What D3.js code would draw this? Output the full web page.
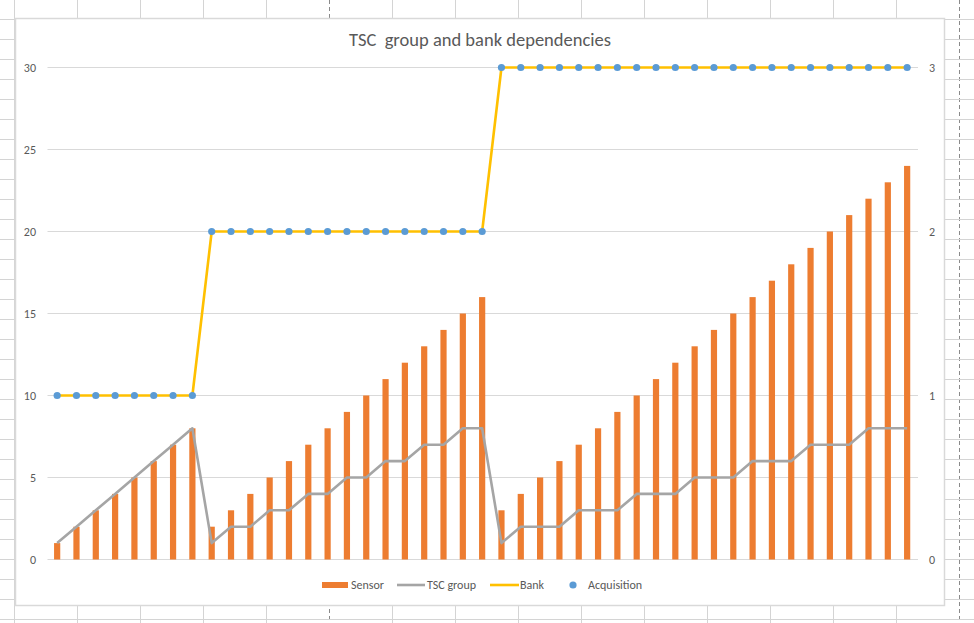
<!DOCTYPE html>
<html><head><meta charset="utf-8">
<script src="https://cdn.jsdelivr.net/npm/d3@7"></script>
<style>body{margin:0;background:#fff;}svg{display:block;}</style>
</head><body>
<svg id="c" width="974" height="623"></svg>
<script>
const sensor = [1,2,3,4,5,6,7,8,
  2,3,4,5,6,7,8,9,10,11,12,13,14,15,16,
  3,4,5,6,7,8,9,10,11,12,13,14,15,16,17,18,19,20,21,22,23,24];
const tscGroup = [1,2,3,4,5,6,7,8,
  1,2,2,3,3,4,4,5,5,6,6,7,7,8,8,
  1,2,2,2,3,3,3,4,4,4,5,5,5,6,6,6,7,7,7,8,8,8];
const bank = [1,1,1,1,1,1,1,1,
  2,2,2,2,2,2,2,2,2,2,2,2,2,2,2,
  3,3,3,3,3,3,3,3,3,3,3,3,3,3,3,3,3,3,3,3,3,3];
const acquisition = bank.slice();
const leftTicks = [0,5,10,15,20,25,30];
const rightTicks = [0,1,2,3];
const seriesNames = ["Sensor","TSC group","Bank","Acquisition"];
const title = "TSC  group and bank dependencies";

const svg = d3.select("#c");
const W = 974, H = 623;
const font = "Calibri, Carlito, Lato, 'Open Sans', sans-serif";

// spreadsheet background grid
const bg = svg.append("g");
const colXs = d3.range(-49, 1000, 63).map(v => v + 0.5);
const rowYs = d3.range(-1, 640, 20).map(v => v + 0.5);
colXs.forEach(x => {
  const dashed = Math.round(x) === 330 || Math.round(x) === 960;
  bg.append("line").attr("x1", x).attr("x2", x).attr("y1", 0).attr("y2", H)
    .attr("stroke", dashed ? "#8a8a8a" : "#d4d4d4").attr("stroke-width", 1)
    .attr("stroke-dasharray", dashed ? "4,3" : null);
});
rowYs.forEach(y => {
  bg.append("line").attr("x1", 0).attr("x2", W).attr("y1", y).attr("y2", y)
    .attr("stroke", "#d4d4d4").attr("stroke-width", 1);
});

// chart area
svg.append("rect").attr("x", 15.5).attr("y", 18.5).attr("width", 929).attr("height", 587)
  .attr("fill", "#fff").attr("stroke", "#d9d9d9").attr("stroke-width", 1.5);

const cats = d3.range(sensor.length);
const x = d3.scaleBand().domain(cats).range([47.5, 916.8]);
const yL = d3.scaleLinear().domain([0, 30]).range([559.5, 67.5]);
const yR = d3.scaleLinear().domain([0, 3]).range([559.5, 67.5]);
const cx = i => x(i) + x.bandwidth() / 2;

// gridlines
svg.append("g").selectAll("line").data(leftTicks).join("line")
  .attr("x1", 47.5).attr("x2", 918).attr("y1", d => yL(d)).attr("y2", d => yL(d))
  .attr("stroke", "#d9d9d9").attr("stroke-width", 1);

// axes labels
const axL = d3.axisLeft(yL).tickValues(leftTicks).tickSize(0).tickPadding(0);
const gL = svg.append("g").attr("transform", "translate(36,0)").call(axL);
gL.select(".domain").remove();
gL.selectAll("text").attr("font-family", font).attr("font-size", 12).attr("fill", "#595959");

const axR = d3.axisRight(yR).tickValues(rightTicks).tickSize(0).tickPadding(0).tickFormat(d3.format("d"));
const gR = svg.append("g").attr("transform", "translate(929,0)").call(axR);
gR.select(".domain").remove();
gR.selectAll("text").attr("font-family", font).attr("font-size", 12).attr("fill", "#595959");

// bars
const bw = 6.2;
svg.append("g").selectAll("rect").data(sensor).join("rect")
  .attr("x", (d, i) => cx(i) - bw / 2).attr("width", bw)
  .attr("y", d => yL(d)).attr("height", d => yL(0) - yL(d))
  .attr("fill", "#ed7d31");

// TSC group line
svg.append("path").datum(tscGroup)
  .attr("d", d3.line().x((d, i) => cx(i)).y(d => yL(d)))
  .attr("fill", "none").attr("stroke", "#a5a5a5").attr("stroke-width", 2.6).attr("stroke-linejoin", "round");

// Bank line
svg.append("path").datum(bank)
  .attr("d", d3.line().x((d, i) => cx(i)).y(d => yR(d)))
  .attr("fill", "none").attr("stroke", "#ffc000").attr("stroke-width", 2.6).attr("stroke-linejoin", "round");

// Acquisition markers
svg.append("g").selectAll("circle").data(acquisition).join("circle")
  .attr("cx", (d, i) => cx(i)).attr("cy", d => yR(d)).attr("r", 3.6)
  .attr("fill", "#5b9bd5");

// title
svg.append("text").attr("x", 480).attr("y", 46).attr("text-anchor", "middle")
  .attr("font-family", font).attr("font-size", 18.5).attr("fill", "#595959")
  .attr("xml:space", "preserve").style("white-space", "pre").text(title);

// legend
const lg = svg.append("g").attr("font-family", font).attr("font-size", 12).attr("fill", "#595959");
const ly = 585;
lg.append("rect").attr("x", 322).attr("y", ly - 3).attr("width", 26).attr("height", 6).attr("fill", "#ed7d31");
lg.append("text").attr("x", 351).attr("y", ly + 4).text(seriesNames[0]);
lg.append("line").attr("x1", 397).attr("x2", 425).attr("y1", ly).attr("y2", ly).attr("stroke", "#a5a5a5").attr("stroke-width", 2.6);
lg.append("text").attr("x", 427).attr("y", ly + 4).text(seriesNames[1]);
lg.append("line").attr("x1", 490).attr("x2", 519).attr("y1", ly).attr("y2", ly).attr("stroke", "#ffc000").attr("stroke-width", 2.6);
lg.append("text").attr("x", 520).attr("y", ly + 4).text(seriesNames[2]);
lg.append("circle").attr("cx", 573).attr("cy", ly).attr("r", 3.6).attr("fill", "#5b9bd5");
lg.append("text").attr("x", 588).attr("y", ly + 4).text(seriesNames[3]);
</script>
</body></html>
